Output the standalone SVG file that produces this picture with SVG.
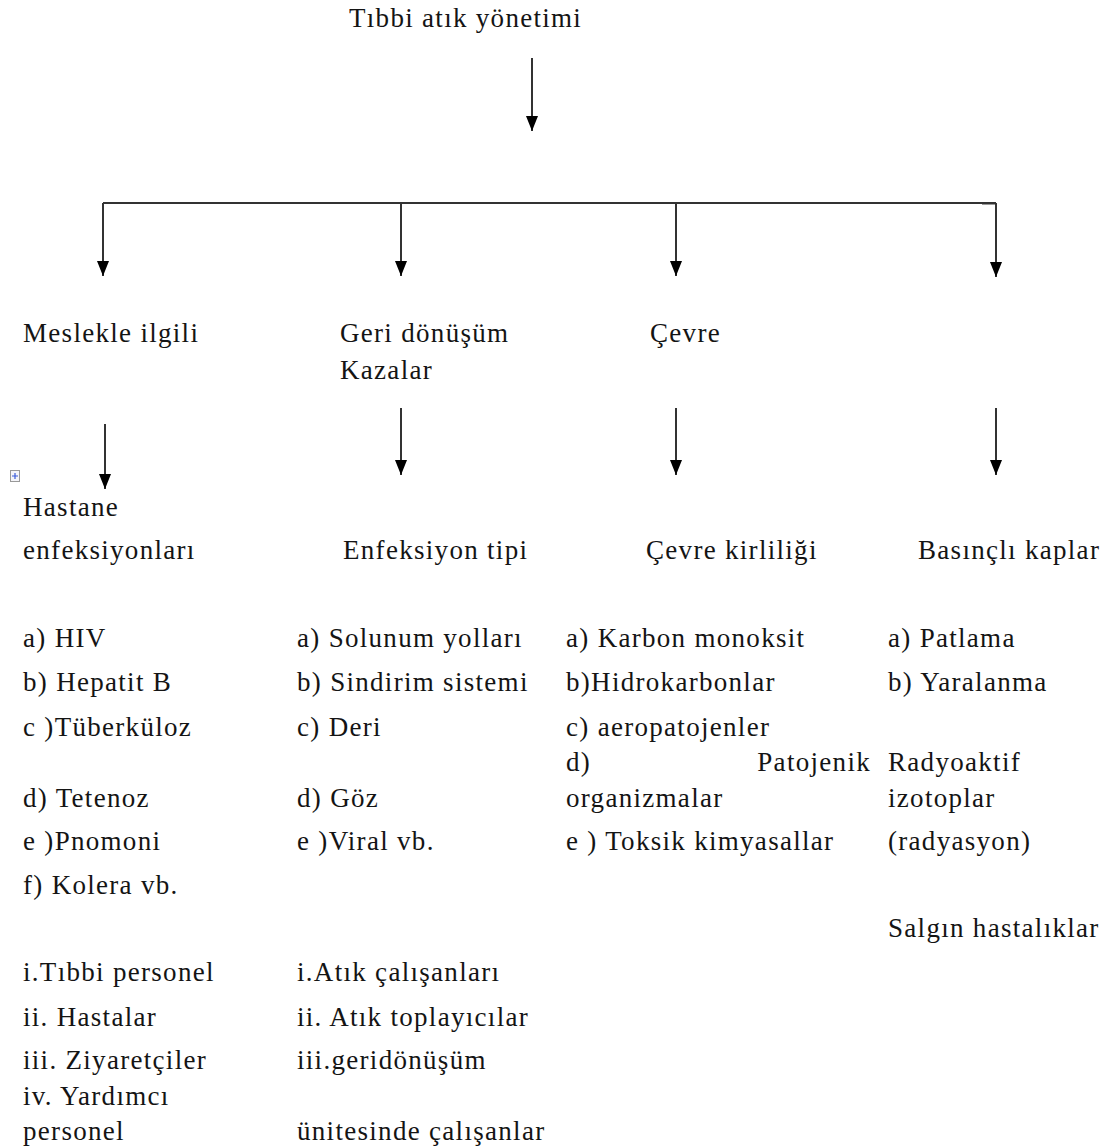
<svg xmlns="http://www.w3.org/2000/svg" width="1108" height="1147" viewBox="0 0 1108 1147">
<defs>
<style>
text{font-family:"Liberation Serif","Times New Roman",serif;font-size:27px;letter-spacing:1.3px;fill:#141414}
.ln{stroke:#333;stroke-width:2;fill:none}
.arr{marker-end:url(#ah)}
</style>
<marker id="ah" markerUnits="userSpaceOnUse" markerWidth="16" markerHeight="13" refX="15" refY="6.5" orient="auto" viewBox="0 0 16 13">
<path d="M0,0.5 L15,6.5 L0,12.5 Z" fill="#000"/>
</marker>
</defs>
<rect width="1108" height="1147" fill="#fff"/>
<g id="connectors">
<line class="ln arr" x1="532" y1="58" x2="532" y2="131"/>
<polyline class="ln" points="103,203 996,203"/>
<line class="ln" x1="982" y1="203.5" x2="996" y2="203.5" stroke-width="3"/>
<line class="ln arr" x1="103" y1="203" x2="103" y2="276"/>
<line class="ln arr" x1="401" y1="203" x2="401" y2="276"/>
<line class="ln arr" x1="676" y1="203" x2="676" y2="276"/>
<line class="ln arr" x1="996" y1="203" x2="996" y2="277"/>
<line class="ln arr" x1="105" y1="424" x2="105" y2="489"/>
<line class="ln arr" x1="401" y1="408" x2="401" y2="475"/>
<line class="ln arr" x1="676" y1="408" x2="676" y2="475"/>
<line class="ln arr" x1="996" y1="408" x2="996" y2="475"/>
</g>
<g id="anchor-icon">
<rect x="10.5" y="470.5" width="9" height="11" fill="#f4f4f8" stroke="#999" stroke-width="1"/>
<path d="M12,476 L18,476 M15,473 L15,479" stroke="#3a5bd9" stroke-width="1.2"/>
</g>
<g id="root"><text x="349" y="27">Tıbbi atık yönetimi</text></g>
<g id="col1">
<text x="23" y="342">Meslekle ilgili</text>
<text x="23" y="516">Hastane</text>
<text x="23" y="559">enfeksiyonları</text>
<text x="23" y="647">a) HIV</text>
<text x="23" y="691">b) Hepatit B</text>
<text x="23" y="736">c )Tüberküloz</text>
<text x="23" y="807">d) Tetenoz</text>
<text x="23" y="850">e )Pnomoni</text>
<text x="23" y="894">f) Kolera vb.</text>
<text x="23" y="981">i.Tıbbi personel</text>
<text x="23" y="1026">ii. Hastalar</text>
<text x="23" y="1069">iii. Ziyaretçiler</text>
<text x="23" y="1105">iv. Yardımcı</text>
<text x="23" y="1140">personel</text>
</g>
<g id="col2">
<text x="340" y="342">Geri dönüşüm</text>
<text x="340" y="379">Kazalar</text>
<text x="343" y="559">Enfeksiyon tipi</text>
<text x="297" y="647">a) Solunum yolları</text>
<text x="297" y="691">b) Sindirim sistemi</text>
<text x="297" y="736">c) Deri</text>
<text x="297" y="807">d) Göz</text>
<text x="297" y="850">e )Viral vb.</text>
<text x="297" y="981">i.Atık çalışanları</text>
<text x="297" y="1026">ii. Atık toplayıcılar</text>
<text x="297" y="1069">iii.geridönüşüm</text>
<text x="297" y="1140">ünitesinde çalışanlar</text>
</g>
<g id="col3">
<text x="650" y="342">Çevre</text>
<text x="646" y="559">Çevre kirliliği</text>
<text x="566" y="647">a) Karbon monoksit</text>
<text x="566" y="691">b)Hidrokarbonlar</text>
<text x="566" y="736">c) aeropatojenler</text>
<text x="566" y="771">d)</text>
<text x="871" y="771" text-anchor="end">Patojenik</text>
<text x="566" y="807">organizmalar</text>
<text x="566" y="850">e ) Toksik kimyasallar</text>
</g>
<g id="col4">
<text x="918" y="559">Basınçlı kaplar</text>
<text x="888" y="647">a) Patlama</text>
<text x="888" y="691">b) Yaralanma</text>
<text x="888" y="771">Radyoaktif</text>
<text x="888" y="807">izotoplar</text>
<text x="888" y="850">(radyasyon)</text>
<text x="888" y="937">Salgın hastalıklar</text>
</g>
</svg>
